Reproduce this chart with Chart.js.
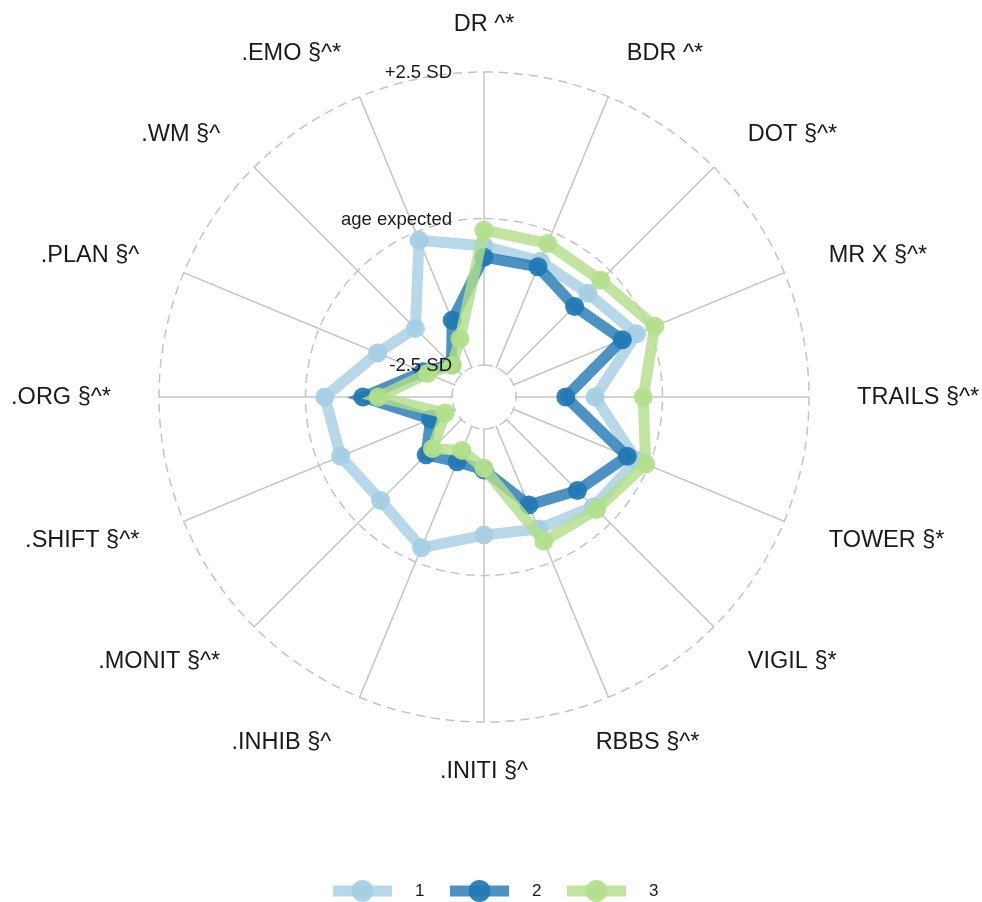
<!DOCTYPE html>
<html><head><meta charset="utf-8">
<script src="https://cdn.jsdelivr.net/npm/chart.js@4"></script>
<style>html,body{margin:0;padding:0;background:#fff}canvas{display:block}</style>
</head><body>
<canvas id="c" width="982" height="902"></canvas>
<script>
const categories = ["DR ^*","BDR ^*","DOT §^*","MR X §^*","TRAILS §^*","TOWER §*","VIGIL §*","RBBS §^*",".INITI §^",".INHIB §^",".MONIT §^*",".SHIFT §^*",".ORG §^*",".PLAN §^",".WM §^",".EMO §^*"];
const seriesNames = ["1","2","3"];
const series1 = [-0.47,-0.54,-0.54,-0.23,-1.15,-0.23,-0.40,-0.61,-0.69,-0.26,-0.55,-0.40,-0.33,-1.08,-1.39,-0.15];
const series2 = [-0.66,-0.64,-0.86,-0.49,-1.65,-0.40,-0.79,-1.05,-1.80,-1.85,-1.65,-2.06,-0.98,-1.92,-2.26,-1.63];
const series3 = [-0.20,-0.21,-0.23,0.11,-0.33,-0.06,-0.33,-0.38,-1.83,-2.06,-1.80,-2.33,-1.24,-2.00,-2.28,-1.97];
const tickValues = [-2.5, 0, 2.5];
const tickLabels = ["-2.5 SD","age expected","+2.5 SD"];

const lineColors = ["rgba(166,206,227,0.8)","rgba(31,120,180,0.8)","rgba(178,223,138,0.8)"];
const pointColors = ["rgba(166,206,227,0.92)","rgba(31,120,180,0.92)","rgba(178,223,138,0.92)"];
const labelHjust = [0.5,0,0,0,0,0,0,0.3,0.5,1.1,1,1,1,1,1,1];

const allSeries = [series1, series2, series3];
const datasets = allSeries.map((d, k) => ({
  label: seriesNames[k],
  data: d,
  borderColor: lineColors[k],
  backgroundColor: pointColors[k],
  pointBackgroundColor: pointColors[k],
  pointBorderWidth: 0,
  pointRadius: 9.5,
  borderWidth: 11,
  fill: false,
  tension: 0,
  order: 3 - k
}));

const radarDecor = {
  id: 'radarDecor',
  beforeDatasetsDraw(chart) {
    const s = chart.scales.r, ctx = chart.ctx;
    ctx.save();
    const rIn = s.getDistanceFromCenterForValue(tickValues[0]);
    ctx.fillStyle = '#fff';
    ctx.beginPath(); ctx.arc(s.xCenter, s.yCenter, rIn - 1, 0, Math.PI * 2); ctx.fill();
    ctx.strokeStyle = '#c4c4c4'; ctx.lineWidth = 1.5; ctx.setLineDash([9, 6]);
    tickValues.forEach(v => {
      const r = s.getDistanceFromCenterForValue(v);
      ctx.beginPath(); ctx.arc(s.xCenter, s.yCenter, r, -Math.PI / 2, Math.PI * 1.5); ctx.stroke();
    });
    ctx.restore();
  },
  afterDatasetsDraw(chart) {
    const s = chart.scales.r, ctx = chart.ctx;
    ctx.save();
    // tick labels
    ctx.fillStyle = '#1a1a1a';
    ctx.font = '18.5px "Liberation Sans", Arial, sans-serif';
    ctx.textAlign = 'right'; ctx.textBaseline = 'middle';
    tickValues.forEach((v, i) => {
      const r = s.getDistanceFromCenterForValue(v);
      ctx.fillText(tickLabels[i], s.xCenter - 32, s.yCenter - r + 1);
    });
    // axis labels
    ctx.font = '23.5px "Liberation Sans", Arial, sans-serif';
    ctx.textAlign = 'left';
    categories.forEach((lab, i) => {
      const p = s.getPointPosition(i, s.drawingArea * 1.148);
      const w = ctx.measureText(lab).width;
      ctx.fillText(lab, p.x - labelHjust[i] * w, p.y + 1);
    });
    // legend
    const ly = 891, x0 = 333, step = 117;
    ctx.font = '17px "Liberation Sans", Arial, sans-serif';
    ctx.textBaseline = 'middle';
    seriesNames.forEach((name, k) => {
      const x = x0 + k * step;
      ctx.strokeStyle = lineColors[k]; ctx.lineWidth = 11; ctx.setLineDash([]);
      ctx.beginPath(); ctx.moveTo(x, ly); ctx.lineTo(x + 59, ly); ctx.stroke();
      ctx.fillStyle = pointColors[k];
      ctx.beginPath(); ctx.arc(x + 29.5, ly, 11, 0, Math.PI * 2); ctx.fill();
      ctx.fillStyle = '#1a1a1a';
      ctx.fillText(name, x + 82, ly);
    });
    ctx.restore();
  }
};

new Chart(document.getElementById('c'), {
  type: 'radar',
  data: { labels: categories, datasets },
  options: {
    responsive: false,
    animation: false,
    devicePixelRatio: 1,
    layout: { padding: { left: 159, right: 173, top: 72, bottom: 180 } },
    plugins: { legend: { display: false }, tooltip: { enabled: false } },
    scales: {
      r: {
        min: -3.046,
        max: 2.5,
        afterBuildTicks(scale) { scale.ticks = tickValues.map(v => ({ value: v })); },
        ticks: { display: false },
        pointLabels: { display: false },
        grid: { display: false },
        angleLines: { display: true, color: '#c4c4c4', lineWidth: 1.5 }
      }
    }
  },
  plugins: [radarDecor]
});
</script>
</body></html>
